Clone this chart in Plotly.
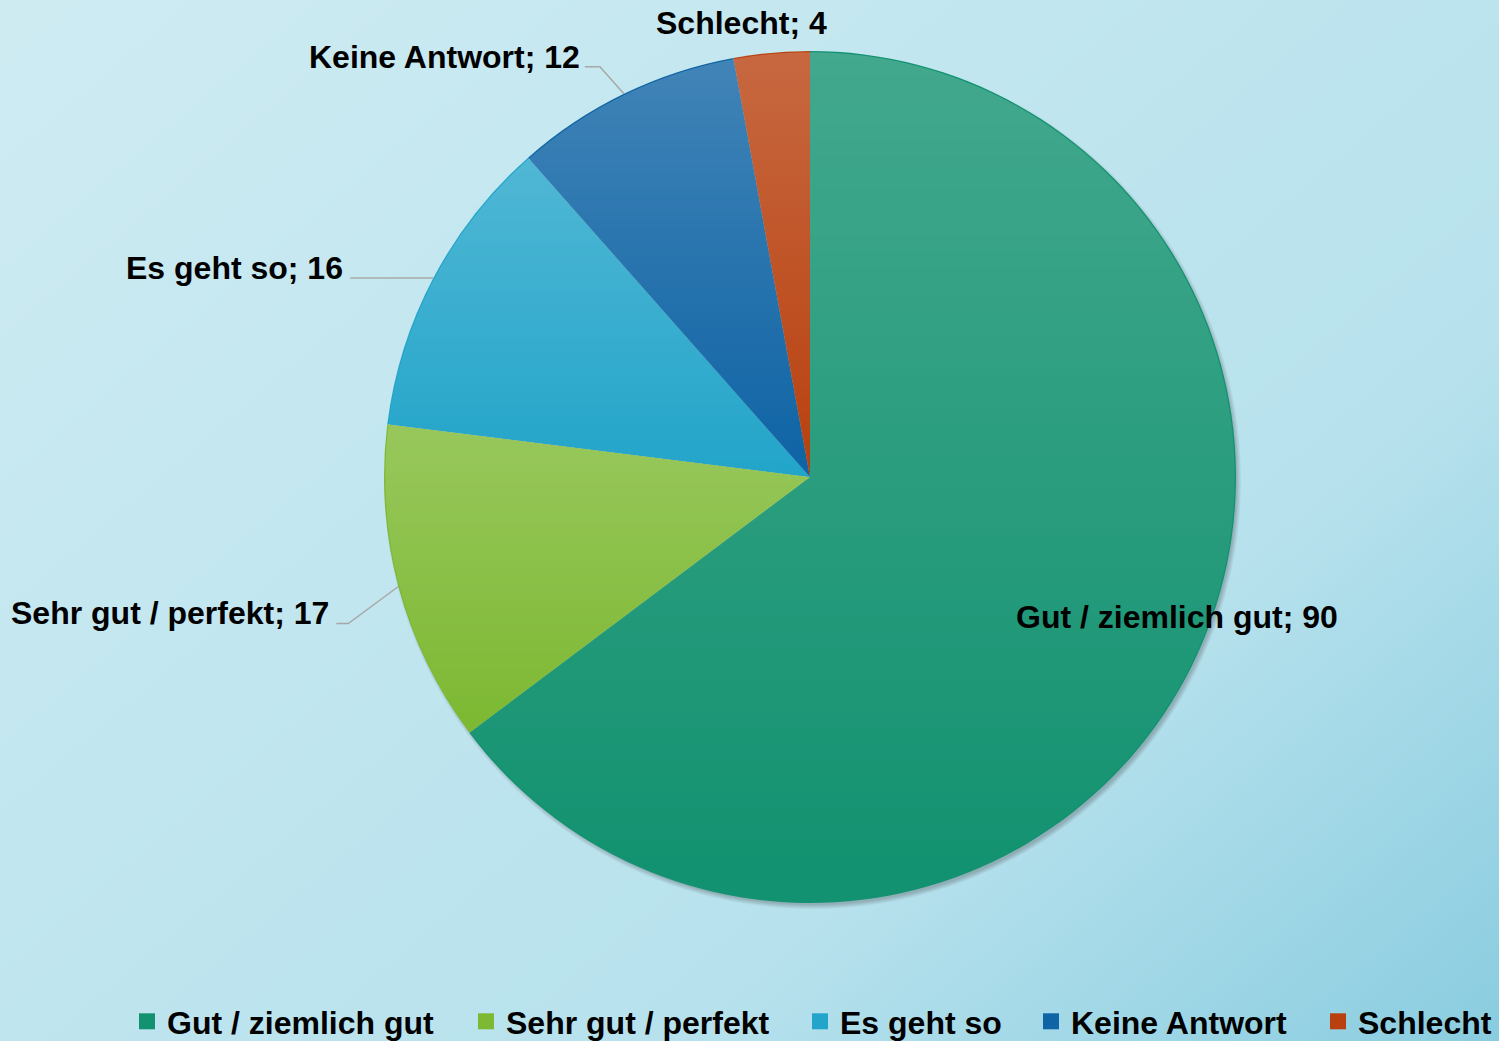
import base64
import struct
import zlib

import numpy as np
import plotly.graph_objects as go

# ---------------- data ----------------
categories = ["Gut / ziemlich gut", "Sehr gut / perfekt", "Es geht so", "Keine Antwort", "Schlecht"]
values = [90, 17, 16, 12, 4]

# ---------------- style ----------------
colors = ["#129270", "#7DB932", "#23A5CA", "#0F64A5", "#B9410F"]
W, H = 1499, 1041
CX, CY, R = 810, 477, 426          # pie centre / radius in pixels
FONT = "Liberation Sans, Arial, sans-serif"
LABEL_SIZE = 32
LEGEND_SIZE = 32
LINE_COLOR = "#A8A8A8"
SHADE_TOP = 0.21                   # white sheen at top of each slice
legend_widths = [294, 289, 186, 242, 136]

# per-label placement: text offset from slice edge point (px), anchor, leader points (offsets)
label_style = [
    dict(dx=-14, dy=-50, xanchor="center", leader=None),
    dict(dx=-67, dy=27, xanchor="right", leader=[(-50, 37), (-62, 37)]),
    dict(dx=-88, dy=-10, xanchor="right", leader=[(-83, 0)]),
    dict(dx=-42, dy=-37, xanchor="right", leader=[(-24, -27), (-39, -27)]),
    dict(dx=-30, dy=-30, xanchor="center", leader=None),
]


def px(x):
    return x / W


def py(y):
    return 1 - y / H


# ---------------- PNG helper ----------------
def make_png(arr):
    arr = np.ascontiguousarray(arr.astype(np.uint8))
    h, w, ch = arr.shape
    up = arr.astype(np.int16)
    diff = np.empty_like(arr)
    diff[0] = arr[0]
    diff[1:] = ((up[1:] - up[:-1]) % 256).astype(np.uint8)
    raw = b"".join(b"\x02" + diff[i].tobytes() for i in range(h))

    def chunk(tag, data):
        c = tag + data
        return struct.pack(">I", len(data)) + c + struct.pack(">I", zlib.crc32(c) & 0xFFFFFFFF)

    ctype = 6 if ch == 4 else 2
    ihdr = struct.pack(">IIBBBBB", w, h, 8, ctype, 0, 0, 0)
    return b"\x89PNG\r\n\x1a\n" + chunk(b"IHDR", ihdr) + chunk(b"IDAT", zlib.compress(raw, 9)) + chunk(b"IEND", b"")


def uri(arr):
    return "data:image/png;base64," + base64.b64encode(make_png(arr)).decode()


# ---------------- background gradient with soft pie shadow ----------------
yy, xx = np.mgrid[0:H, 0:W].astype(float)
t = (xx / W) * 0.55 + (yy / H) * 0.45
c0 = np.array([207, 236, 243], float)
c1 = np.array([183, 226, 237], float)
c2 = np.array([138, 205, 224], float)
tt = t[..., None]
bg = np.where(tt < 0.7, c0 + (c1 - c0) * (tt / 0.7), c1 + (c2 - c1) * ((tt - 0.7) / 0.3))
d = np.hypot(xx - (CX + 2), yy - (CY + 3))
sh = np.clip((R + 3 - d) / 5.0, 0, 1) * 0.4
bg = bg * (1 - sh[..., None]) + np.array([90, 100, 105], float) * sh[..., None]
bg_uri = uri(np.clip(bg, 0, 255))

# ---------------- per-slice sheen overlay (computed from the data) ----------------
total = float(sum(values))
bounds = np.cumsum([0] + values) / total * 2 * np.pi
S = 2 * R
oy, ox = np.mgrid[0:S, 0:S].astype(float)
dx = ox + 0.5 - R
dy = oy + 0.5 - R
rr = np.hypot(dx, dy)
ang = np.mod(np.arctan2(dx, -dy), 2 * np.pi)
idx = np.clip(np.searchsorted(bounds, ang, side="right") - 1, 0, len(values) - 1)
ymins, ymaxs = [], []
for a0, a1 in zip(bounds[:-1], bounds[1:]):
    cand = [0.0, -R * np.cos(a0), -R * np.cos(a1)]
    if a0 <= 0 <= a1:
        cand.append(-R)
    if a0 <= np.pi <= a1:
        cand.append(R)
    ymins.append(min(cand))
    ymaxs.append(max(cand))
ymins = np.array(ymins)
ymaxs = np.array(ymaxs)
frac = (ymaxs[idx] - dy) / (ymaxs[idx] - ymins[idx])
alpha = SHADE_TOP * np.clip(frac, 0, 1) * np.clip(R - 0.8 - rr, 0, 1)
ov = np.zeros((S, S, 4))
ov[..., :3] = 255
ov[..., 3] = alpha * 255
ov_uri = uri(np.clip(ov, 0, 255))

# ---------------- figure ----------------
fig = go.Figure()

fig.add_trace(go.Pie(
    labels=categories,
    values=values,
    sort=False,
    direction="clockwise",
    rotation=0,
    marker=dict(colors=colors, line=dict(width=0)),
    textinfo="none",
    hovertemplate="%{label}; %{value}<extra></extra>",
    showlegend=False,
    domain=dict(x=[px(CX - R), px(CX + R)], y=[py(CY + R), py(CY - R)]),
))

# legend entries (square markers)
for name, c, lw in zip(categories, colors, legend_widths):
    fig.add_trace(go.Scatter(
        x=[None], y=[None], mode="markers", name=name,
        marker=dict(symbol="square", size=17, color=c),
        hoverinfo="skip", legendwidth=lw,
    ))

# data labels and leader lines computed from slice mid-angles
cum = 0.0
annotations = []
shapes = []
for cat, v, st in zip(categories, values, label_style):
    mid = (cum + v / 2) / total * 2 * np.pi
    cum += v
    ex = CX + R * np.sin(mid)
    ey = CY - R * np.cos(mid)
    annotations.append(dict(
        x=px(ex + st["dx"]), y=py(ey + st["dy"]), xref="paper", yref="paper",
        text=f"{cat}; {v}", showarrow=False, xanchor=st["xanchor"], yanchor="middle",
        font=dict(family=FONT, size=LABEL_SIZE, color="#000000", weight="bold"),
    ))
    if st["leader"]:
        pts = [(ex, ey)] + [(ex + a, ey + b) for a, b in st["leader"]]
        path = "M " + " L ".join(f"{px(a):.5f},{py(b):.5f}" for a, b in pts)
        shapes.append(dict(type="path", path=path, xref="paper", yref="paper",
                           line=dict(color=LINE_COLOR, width=1.5)))

fig.update_layout(
    width=W, height=H,
    margin=dict(l=0, r=0, t=0, b=0, autoexpand=False),
    paper_bgcolor="#BFE4EE",
    plot_bgcolor="rgba(0,0,0,0)",
    xaxis=dict(visible=False),
    yaxis=dict(visible=False),
    images=[
        dict(source=bg_uri, xref="paper", yref="paper", x=0, y=1, sizex=1, sizey=1,
             xanchor="left", yanchor="top", sizing="stretch", layer="below"),
        dict(source=ov_uri, xref="paper", yref="paper", x=px(CX - R), y=py(CY - R),
             sizex=px(2 * R), sizey=2 * R / H, xanchor="left", yanchor="top",
             sizing="stretch", layer="above"),
    ],
    annotations=annotations,
    shapes=shapes,
    showlegend=True,
    legend=dict(
        orientation="h", x=1.0, xanchor="right", y=-8 / H, yanchor="bottom",
        font=dict(family=FONT, size=LEGEND_SIZE, color="#000000", weight="bold"),
        bgcolor="rgba(0,0,0,0)", itemsizing="trace", traceorder="normal",
    ),
)

fig.write_html("out.html", config={"displayModeBar": False},
               post_script="document.body.style.margin='0';")
